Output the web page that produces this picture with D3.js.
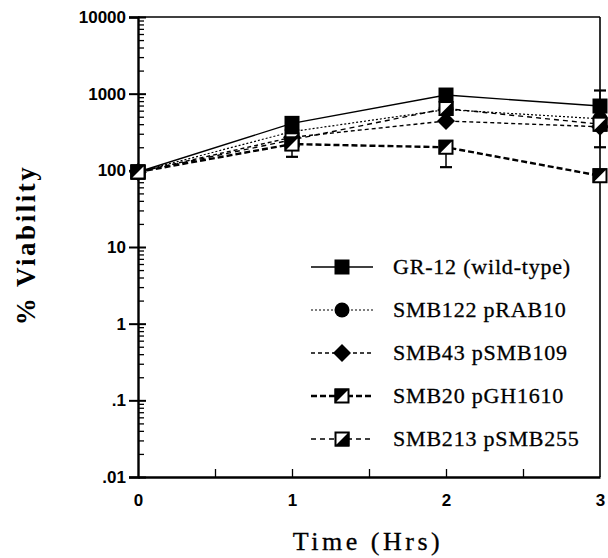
<!DOCTYPE html>
<html>
<head>
<meta charset="utf-8">
<script src="https://cdn.jsdelivr.net/npm/d3@7"></script>
<style>
  body { margin: 0; background: #fff; }
  svg { display: block; font-family: "Liberation Serif", serif; }
</style>
</head>
<body>
<div id="chart"></div>
<script>
// data
const hours = [0, 1, 2, 3];
const seriesNames = ["GR-12 (wild-type)", "SMB122 pRAB10", "SMB43 pSMB109", "SMB20 pGH1610", "SMB213 pSMB255"];
const gr12 = [95, 410, 960, 690];
const smb122 = [95, 320, 620, 470];
const smb43 = [95, 270, 440, 370];
const smb20 = [95, 220, 200, 85];
const smb213 = [95, 250, 640, 400];
// error bars [hour, low, high] per series (only the visible ones)
const smb20Err = [[1, 150, 220], [2, 110, 200]];
const gr12Err = [[3, 690, 1100]];
const smb43Err = [[3, 200, 370]];
const yTickValues = [0.01, 0.1, 1, 10, 100, 1000, 10000];
const yTickLabels = [".01", ".1", "1", "10", "100", "1000", "10000"];
const xTickValues = [0, 1, 2, 3];

const width = 608, height = 558,
      margin = ({top: 17, right: 8, bottom: 81, left: 138});

const svg = d3.select("#chart")
    .append("svg")
    .attr("width", width)
    .attr("height", height);

const x = d3.scaleLinear()
    .domain([0, 3])
    .range([margin.left, width - margin.right]);

const y = d3.scaleLog()
    .domain([0.01, 10000])
    .range([height - margin.bottom, margin.top]);

// minor ticks 2..9 of every decade
const minor = [];
for (let e = -2; e < 4; e++) {
    for (let k = 2; k <= 9; k++) minor.push(k * Math.pow(10, e));
}

// frame top + right
svg.append("line")
    .attr("x1", x(0)).attr("x2", x(3))
    .attr("y1", y(10000)).attr("y2", y(10000))
    .attr("stroke", "#000").attr("stroke-width", 1.6);
svg.append("line")
    .attr("x1", x(3)).attr("x2", x(3))
    .attr("y1", y(10000)).attr("y2", y(0.01))
    .attr("stroke", "#000").attr("stroke-width", 1.6);

// y axis
const yAxis = svg.append("g")
    .attr("transform", `translate(${x(0)},0)`)
    .call(d3.axisLeft(y)
        .tickValues(yTickValues)
        .tickFormat((d, i) => yTickLabels[i])
        .tickSize(9)
        .tickPadding(3));
yAxis.select(".domain").attr("stroke-width", 2.4);
yAxis.selectAll(".tick line").attr("stroke-width", 2);
yAxis.selectAll("text")
    .attr("font-size", 17).attr("font-weight", "bold").attr("fill", "#000");

svg.append("g")
    .attr("transform", `translate(${x(0)},0)`)
    .call(d3.axisRight(y).tickValues(yTickValues).tickFormat("").tickSize(8).tickSizeOuter(0))
    .call(g => g.select(".domain").remove())
    .selectAll("line").attr("stroke-width", 2);

svg.append("g")
    .attr("transform", `translate(${x(0)},0)`)
    .call(d3.axisRight(y).tickValues(minor).tickFormat("").tickSize(6).tickSizeOuter(0))
    .call(g => g.select(".domain").remove())
    .selectAll("line").attr("stroke-width", 1.3);

// x axis
const xAxis = svg.append("g")
    .attr("transform", `translate(0,${y(0.01)})`)
    .call(d3.axisBottom(x)
        .tickValues(xTickValues)
        .tickFormat(d3.format("d"))
        .tickSize(0)
        .tickPadding(17));
xAxis.select(".domain").attr("stroke-width", 2.6);
xAxis.selectAll("text")
    .attr("font-size", 17).attr("font-weight", "bold").attr("fill", "#000");

svg.append("g")
    .attr("transform", `translate(0,${y(0.01)})`)
    .call(d3.axisTop(x).tickValues([0.5, 1, 1.5, 2, 2.5]).tickFormat("").tickSize(8).tickSizeOuter(0))
    .call(g => g.select(".domain").remove())
    .selectAll("line").attr("stroke-width", 1.3);

// axis titles
svg.append("text")
    .attr("transform", `translate(35,245) rotate(-90)`)
    .attr("text-anchor", "middle")
    .attr("font-size", 27)
    .attr("font-weight", "bold")
    .attr("letter-spacing", 2.5)
    .text("% Viability");

svg.append("text")
    .attr("x", 368)
    .attr("y", 550)
    .attr("text-anchor", "middle")
    .attr("font-size", 26)
    .attr("letter-spacing", 3.5)
    .attr("stroke", "#000")
    .attr("stroke-width", 0.3)
    .text("Time  (Hrs)");

// series definitions
const series = [
    {name: seriesNames[0], values: gr12, err: gr12Err, dash: null, sw: 1.4, marker: "square"},
    {name: seriesNames[1], values: smb122, err: [], dash: "2,2", sw: 1.2, marker: "circle"},
    {name: seriesNames[2], values: smb43, err: smb43Err, dash: "4,3", sw: 1.4, marker: "diamond"},
    {name: seriesNames[4], values: smb213, err: [], dash: "5,4", sw: 1.4, marker: "halfB"},
    {name: seriesNames[3], values: smb20, err: smb20Err, dash: "6,3", sw: 2.4, marker: "halfA"}
];

const line = d3.line()
    .x((d, i) => x(hours[i]))
    .y(d => y(d));

// error bars
for (let s of series) {
    for (let e of s.err) {
        const g = svg.append("g").attr("stroke", "#000").attr("stroke-width", 1.5);
        g.append("line")
            .attr("x1", x(e[0])).attr("x2", x(e[0]))
            .attr("y1", y(e[1])).attr("y2", y(e[2]));
        g.append("line")
            .attr("x1", x(e[0]) - 6).attr("x2", x(e[0]) + 6)
            .attr("y1", y(e[1])).attr("y2", y(e[1])).attr("stroke-width", 2.2);
        g.append("line")
            .attr("x1", x(e[0]) - 6).attr("x2", x(e[0]) + 6)
            .attr("y1", y(e[2])).attr("y2", y(e[2])).attr("stroke-width", 2.2);
    }
}

// lines
for (let s of series) {
    svg.append("path")
        .datum(s.values)
        .attr("fill", "none")
        .attr("stroke", "#000")
        .attr("stroke-width", s.sw)
        .attr("stroke-dasharray", s.dash)
        .attr("d", line);
}

// marker drawing
function drawMarker(g, type, cx, cy) {
    const h = 7.5;
    if (type === "square") {
        g.append("rect").attr("x", cx - h).attr("y", cy - h)
            .attr("width", 2 * h).attr("height", 2 * h).attr("fill", "#000");
    } else if (type === "circle") {
        g.append("circle").attr("cx", cx).attr("cy", cy).attr("r", 7.5).attr("fill", "#000");
    } else if (type === "diamond") {
        g.append("path")
            .attr("d", `M${cx},${cy - 9}L${cx + 9},${cy}L${cx},${cy + 9}L${cx - 9},${cy}Z`)
            .attr("fill", "#000");
    } else {
        // half-filled squares: A = black upper-left, B = black lower-right
        g.append("rect").attr("x", cx - h + 1).attr("y", cy - h + 1)
            .attr("width", 2 * h - 2).attr("height", 2 * h - 2)
            .attr("fill", "#fff").attr("stroke", "#000").attr("stroke-width", 2);
        const tri = type === "halfA"
            ? `M${cx - h},${cy - h}L${cx + h},${cy - h}L${cx - h},${cy + h}Z`
            : `M${cx + h},${cy + h}L${cx + h},${cy - h}L${cx - h},${cy + h}Z`;
        g.append("path").attr("d", tri).attr("fill", "#000");
    }
}

for (let s of series) {
    const g = svg.append("g");
    s.values.forEach((v, i) => drawMarker(g, s.marker, x(hours[i]), y(v)));
}

// legend
const legendOrder = [0, 1, 2, 4, 3];
const legend = svg.append("g");
legendOrder.forEach((si, i) => {
    const s = series[si];
    const ly = 267 + i * 43;
    legend.append("line")
        .attr("x1", 311).attr("x2", 373)
        .attr("y1", ly).attr("y2", ly)
        .attr("stroke", "#000")
        .attr("stroke-width", s.sw)
        .attr("stroke-dasharray", s.dash);
    drawMarker(legend, s.marker, 342, ly);
    legend.append("text")
        .attr("x", 393)
        .attr("y", ly + 7)
        .attr("font-size", 22)
        .attr("letter-spacing", 0.8)
        .attr("stroke", "#000")
        .attr("stroke-width", 0.3)
        .text(s.name);
});
</script>
</body>
</html>
